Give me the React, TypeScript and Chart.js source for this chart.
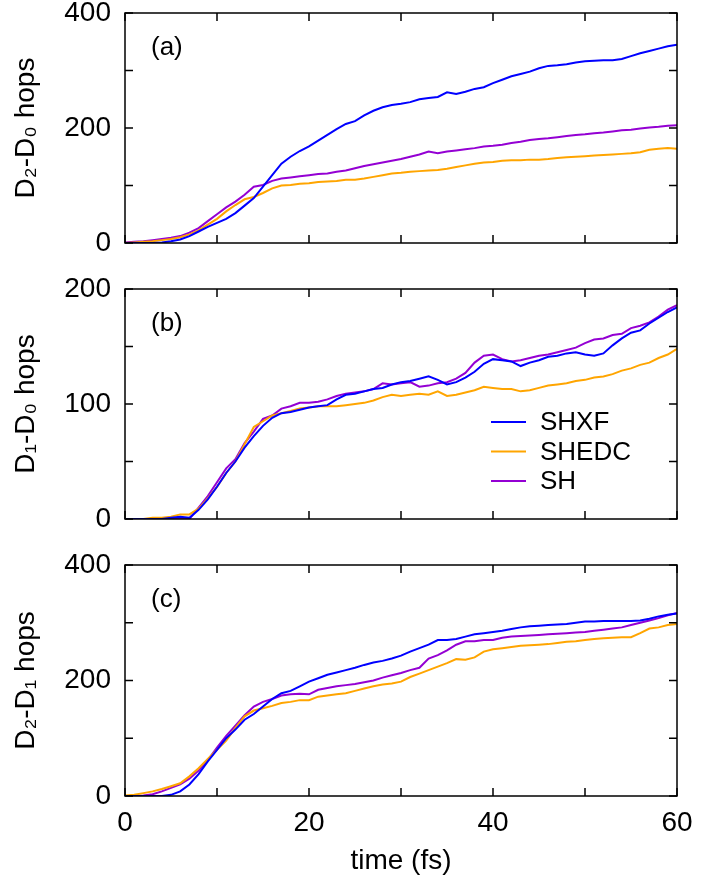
import React, { useEffect, useRef } from "react";
import { Chart, registerables } from "chart.js";

Chart.register(...registerables);

const time = [0,1,2,3,4,5,6,7,8,9,10,11,12,13,14,15,16,17,18,19,20,21,22,23,24,25,26,27,28,29,30,31,32,33,34,35,36,37,38,39,40,41,42,43,44,45,46,47,48,49,50,51,52,53,54,55,56,57,58,59,60];

const seriesNames = ["SHXF", "SHEDC", "SH"];
const seriesColors = ["#0000ff", "#ffa500", "#9400d3"];

// Panel (a): D2-D0 hops
const a_SHXF = [0,0,0,0,1,3,6,12,20,28,35,42,52,65,78,98,118,138,150,160,168,178,188,198,207,212,222,230,236,240,242,245,250,252,254,262,259,263,268,271,278,284,290,294,298,304,308,309,311,314,316,317,318,318,320,325,330,334,338,342,345];
const a_SHEDC = [0,1,2,3,5,7,10,15,22,32,42,55,66,76,80,87,95,100,101,103,104,106,107,108,110,110,112,115,118,121,122,124,125,126,127,129,132,135,138,140,141,143,144,144,145,145,146,148,149,150,151,152,153,154,155,156,158,162,164,165,164];
const a_SH = [1,2,3,5,7,9,12,18,26,38,50,62,72,84,98,101,108,112,114,116,118,120,121,124,126,130,134,137,140,143,146,150,154,159,156,159,161,163,165,168,169,171,174,176,179,181,182,184,186,188,189,191,192,194,196,197,199,201,202,204,205];

// Panel (b): D1-D0 hops
const b_SHXF = [0,0,0,0,0,1,2,1,8,17,28,40,50,62,72,81,88,92,93,95,97,98,99,104,108,109,111,113,114,117,119,120,122,124,121,117,119,123,128,135,139,138,137,133,136,138,141,142,144,145,143,142,144,151,157,162,164,170,175,180,184];
const b_SHEDC = [0,0,0,1,1,2,4,4,9,18,28,40,50,65,80,85,90,92,94,96,97,98,98,98,99,100,101,103,106,108,107,108,109,108,111,107,108,110,112,115,114,113,113,111,112,114,116,117,118,120,121,123,124,126,129,131,134,136,140,143,148];
const b_SH = [0,0,0,0,0,0,1,0,10,20,32,44,52,66,76,87,90,96,98,101,101,102,104,107,109,110,111,113,118,117,118,119,115,116,118,119,122,127,136,142,143,139,137,138,140,142,143,145,147,149,153,156,157,160,161,166,168,171,176,182,186];

// Panel (c): D2-D1 hops
const c_SHXF = [0,0,0,0,0,2,8,20,38,60,80,100,115,132,142,155,168,178,182,190,198,204,210,214,218,222,227,231,234,238,243,250,256,262,270,270,272,276,280,282,284,286,289,292,294,295,296,297,298,300,302,302,303,303,303,303,304,307,311,314,316];
const c_SHEDC = [1,2,5,8,12,17,22,34,48,64,80,96,118,138,148,152,156,161,163,166,166,172,174,176,178,182,186,190,193,195,198,206,212,218,224,230,237,236,240,250,254,256,258,260,261,262,263,265,267,268,270,272,273,274,275,275,282,290,292,296,298];
const c_SH = [0,0,1,3,8,14,20,30,44,62,84,104,122,140,155,163,168,174,176,177,176,184,187,190,192,194,197,200,205,209,213,218,222,238,244,252,262,268,268,270,270,274,276,277,278,279,280,281,282,283,284,286,288,290,292,296,300,304,308,313,317];

const xTicksMajor = [0, 20, 40, 60];
const xTicksMinor = [0, 10, 20, 30, 40, 50, 60];

const FONT = "'Liberation Sans', Arial, Helvetica, sans-serif";
const AXIS_SIZE = 28;
const LABEL_SIZE = 26;

type PanelSpec = {
  id: string;
  label: string;
  yTitle: string;
  yMax: number;
  yStep: number;
  yMinorStep: number;
  series: number[][];
  showX: boolean;
  showLegend: boolean;
  top: number;
  height: number;
  padTop: number;
  padBottom: number;
};

const panels: PanelSpec[] = [
  { id: "a", label: "(a)", yTitle: "D\u2082-D\u2080 hops", yMax: 400, yStep: 200, yMinorStep: 100, series: [a_SHXF, a_SHEDC, a_SH], showX: false, showLegend: false, top: 0, height: 262, padTop: 13, padBottom: 19 },
  { id: "b", label: "(b)", yTitle: "D\u2081-D\u2080 hops", yMax: 200, yStep: 100, yMinorStep: 50, series: [b_SHXF, b_SHEDC, b_SH], showX: false, showLegend: true, top: 270, height: 270, padTop: 19, padBottom: 21 },
  { id: "c", label: "(c)", yTitle: "D\u2082-D\u2081 hops", yMax: 400, yStep: 200, yMinorStep: 100, series: [c_SHXF, c_SHEDC, c_SH], showX: true, showLegend: false, top: 540, height: 340, padTop: 25, padBottom: 0 },
];

const framePlugin = {
  id: "frameTicks",
  afterDatasetsDraw(chart: any, _args: any, opts: any) {
    const { ctx, chartArea } = chart;
    const { left, right, top, bottom } = chartArea;
    const xs = chart.scales.x;
    const ys = chart.scales.y;
    ctx.save();
    ctx.strokeStyle = "#000";
    ctx.lineWidth = 1.5;
    ctx.strokeRect(left, top, right - left, bottom - top);
    const tl = 8;
    ctx.beginPath();
    for (const v of xTicksMinor) {
      const px = xs.getPixelForValue(v);
      ctx.moveTo(px, bottom);
      ctx.lineTo(px, bottom - tl);
      ctx.moveTo(px, top);
      ctx.lineTo(px, top + tl);
    }
    for (let v = 0; v <= opts.yMax; v += opts.yMinorStep) {
      const py = ys.getPixelForValue(v);
      ctx.moveTo(left, py);
      ctx.lineTo(left + tl, py);
      ctx.moveTo(right, py);
      ctx.lineTo(right - tl, py);
    }
    ctx.stroke();

    ctx.fillStyle = "#000";
    ctx.font = `${LABEL_SIZE}px ${FONT}`;
    ctx.textAlign = "left";
    ctx.textBaseline = "middle";
    ctx.fillText(opts.label, left + 26, top + 35);

    if (opts.showLegend) {
      const lx0 = left + 366;
      const lx1 = left + 401;
      const tx = left + 415;
      const ys0 = top + 133;
      const dy = 29.5;
      chart.data.datasets.forEach((ds: any, i: number) => {
        const y = ys0 + i * dy;
        ctx.strokeStyle = ds.borderColor;
        ctx.lineWidth = 2;
        ctx.beginPath();
        ctx.moveTo(lx0, y);
        ctx.lineTo(lx1, y);
        ctx.stroke();
        ctx.fillStyle = "#000";
        ctx.fillText(ds.label, tx, y + 1);
      });
    }
    ctx.restore();
  },
};

function Panel({ spec }: { spec: PanelSpec }) {
  const ref = useRef<HTMLCanvasElement | null>(null);
  useEffect(() => {
    if (!ref.current) return;
    const datasets = spec.series.map((vals, i) => ({
      label: seriesNames[i],
      data: time.map((t, k) => ({ x: t, y: vals[k] })),
      borderColor: seriesColors[i],
      backgroundColor: seriesColors[i],
      borderWidth: 2,
      pointRadius: 0,
      tension: 0,
      fill: false,
    }));
    const chart = new Chart(ref.current, {
      type: "line",
      data: { datasets },
      plugins: [framePlugin],
      options: {
        animation: false,
        responsive: false,
        maintainAspectRatio: false,
        devicePixelRatio: 1,
        layout: { padding: { left: 0, right: 47, top: spec.padTop, bottom: spec.padBottom } },
        plugins: {
          legend: { display: false },
          tooltip: { enabled: false },
          frameTicks: { label: spec.label, yMax: spec.yMax, yMinorStep: spec.yMinorStep, showLegend: spec.showLegend },
        } as any,
        scales: {
          x: {
            type: "linear",
            min: 0,
            max: 60,
            display: spec.showX,
            grid: { display: false, drawTicks: false },
            border: { display: false },
            afterBuildTicks: (scale: any) => {
              scale.ticks = xTicksMajor.map((v) => ({ value: v }));
            },
            afterFit: (scale: any) => {
              scale.height = spec.showX ? 84 : 0;
              scale.paddingLeft = 0;
              scale.paddingRight = 0;
              scale.paddingTop = 0;
              scale.paddingBottom = 0;
            },
            ticks: {
              color: "#000",
              font: { family: FONT, size: AXIS_SIZE, lineHeight: 1 },
              padding: 13,
              maxRotation: 0,
              autoSkip: false,
            },
            title: {
              display: spec.showX,
              text: "time (fs)",
              color: "#000",
              font: { family: FONT, size: AXIS_SIZE, lineHeight: 1.2 },
              padding: { top: 0, bottom: 2 },
            },
          },
          y: {
            type: "linear",
            min: 0,
            max: spec.yMax,
            grid: { display: false, drawTicks: false },
            border: { display: false },
            afterFit: (scale: any) => {
              scale.width = 125;
              scale.paddingTop = 0;
              scale.paddingBottom = 0;
              scale.paddingLeft = 0;
              scale.paddingRight = 0;
            },
            ticks: {
              stepSize: spec.yStep,
              color: "#000",
              font: { family: FONT, size: AXIS_SIZE, lineHeight: 1 },
              padding: 14,
            },
            title: {
              display: true,
              text: spec.yTitle,
              color: "#000",
              font: { family: FONT, size: AXIS_SIZE, lineHeight: 1.2 },
              padding: { top: 9, bottom: 0 },
            },
          },
        },
      },
    });
    return () => chart.destroy();
  }, [spec]);
  return (
    <canvas
      ref={ref}
      width={724}
      height={spec.height}
      style={{ position: "absolute", left: 0, top: spec.top, width: 724, height: spec.height }}
    />
  );
}

export default function App() {
  return (
    <div style={{ position: "absolute", left: 0, top: 0, width: 724, height: 880, background: "#fff" }}>
      {panels.map((p) => (
        <Panel key={p.id} spec={p} />
      ))}
    </div>
  );
}
